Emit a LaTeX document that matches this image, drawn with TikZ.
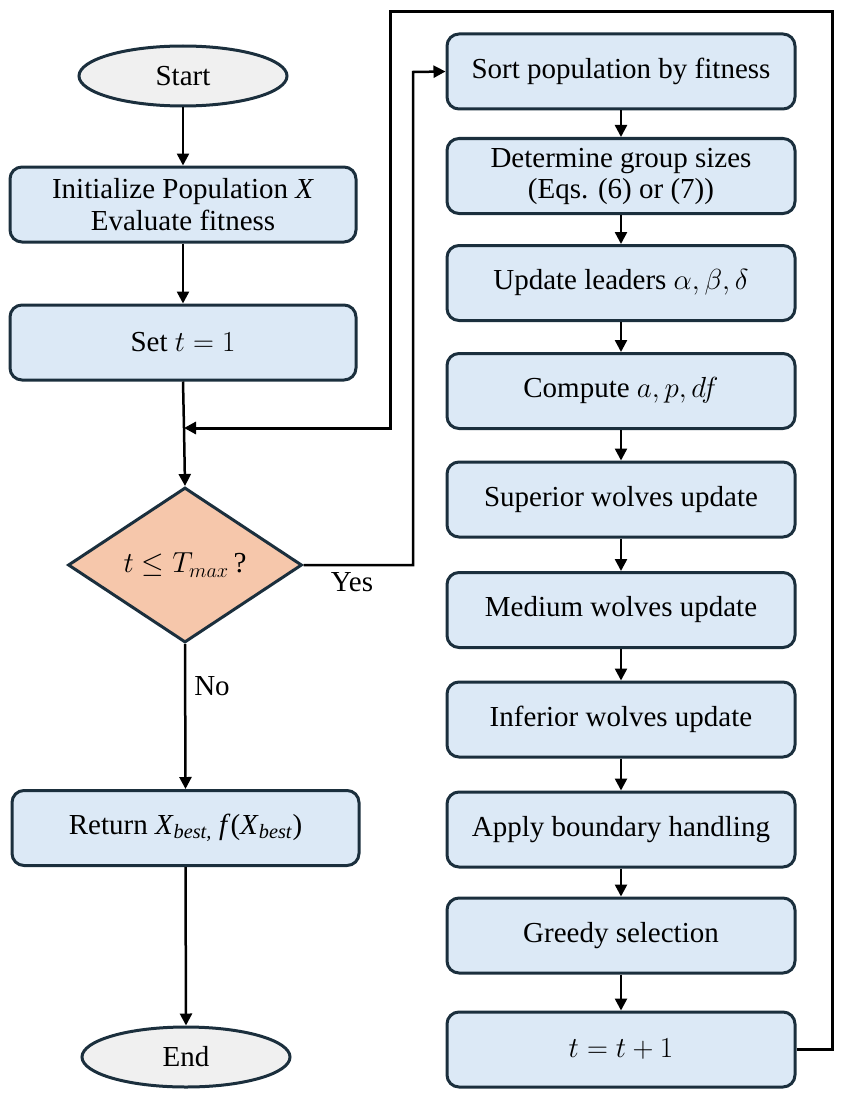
\RequirePackage{fix-cm}
\documentclass[tikz,border=0pt]{standalone}
\usepackage{fontspec}
\setmainfont{Liberation Serif}
\usetikzlibrary{shapes.geometric,arrows.meta}
\definecolor{bordc}{HTML}{1B2F3D}
\definecolor{boxfill}{HTML}{DCE9F6}
\definecolor{decfill}{HTML}{F6C7AB}
\definecolor{termfill}{HTML}{F0F0F0}
\begin{document}
\begin{tikzpicture}[x=1pt,y=-1pt,
  every node/.style={font=\fontsize{29}{35}\selectfont},
  procbox/.style={draw=bordc,fill=boxfill,line width=3pt,rounded corners=12pt,minimum width=346pt,minimum height=75pt,align=center,inner sep=2pt},
  termnode/.style={draw=bordc,fill=termfill,ellipse,line width=3pt,minimum width=208pt,minimum height=60pt,inner sep=0pt},
  decnode/.style={draw=bordc,fill=decfill,diamond,line width=3pt,minimum width=234pt,minimum height=155pt,inner sep=0pt},
  flow/.style={line width=2.5pt,-{Triangle[length=12pt,width=12pt]}},
  lbl/.style={inner sep=0pt}
]
\useasboundingbox (0,0) rectangle (843,1097);
% left column
\node[termnode] (start) at (183,76) {Start};
\node[procbox] (init) at (183,204.5) {Initialize Population \textit{X}\\[-3pt]Evaluate fitness};
\node[procbox] (sett) at (183,342.5) {Set $t=1$};
\coordinate (J) at (184,428);
\node[decnode] (dec) at (185,565) {$t \leq T_{max}$\,?};
\node[procbox,minimum width=347pt] (ret) at (185.5,828) {Return \textit{X}\textsubscript{\textit{best,}} \textit{f}(\textit{X}\textsubscript{\textit{best}})};
\node[termnode] (stop) at (186,1057) {End};
% right column
\node[procbox,minimum width=348pt] (sort) at (621,71.5) {Sort population by fitness};
\node[procbox,minimum width=348pt] (det) at (621,176) {Determine group sizes\\[-4pt](Eqs. (6) or (7))};
\node[procbox,minimum width=348pt] (lead) at (621,283) {Update leaders $\alpha,\beta,\delta$};
\node[procbox,minimum width=348pt] (comp) at (621,391) {Compute $a,p,df$};
\node[procbox,minimum width=348pt] (sup) at (621,499.5) {Superior wolves update};
\node[procbox,minimum width=348pt] (med) at (621,610) {Medium wolves update};
\node[procbox,minimum width=348pt] (inf) at (621,719.5) {Inferior wolves update};
\node[procbox,minimum width=348pt] (app) at (621,829.5) {Apply boundary handling};
\node[procbox,minimum width=348pt] (gre) at (621,935.5) {Greedy selection};
\node[procbox,minimum width=348pt] (tinc) at (621,1049.5) {$t=t+1$};
% left connectors
\draw[flow] (start) -- (init);
\draw[flow] (init) -- (sett);
\draw[flow] (sett.south) -- (J) -- (dec.north);
\draw[flow] (dec.south) -- (ret.north);
\node[lbl] (no) at (212,686) {No};
\draw[flow] (ret.south) -- (stop.north);
% yes branch
\coordinate (Y1) at (413,565);
\coordinate (Y2) at (413,72);
\draw[flow] (dec.east) -- (Y1) -- (Y2) -- (sort.west);
\node[lbl] (yes) at (352,582) {Yes};
% right connectors
\draw[flow] (sort) -- (det);
\draw[flow] (det) -- (lead);
\draw[flow] (lead) -- (comp);
\draw[flow] (comp) -- (sup);
\draw[flow] (sup) -- (med);
\draw[flow] (med) -- (inf);
\draw[flow] (inf) -- (app);
\draw[flow] (app) -- (gre);
\draw[flow] (gre) -- (tinc);
% loop back
\coordinate (L1) at (832,1049.5);
\coordinate (L2) at (832,12);
\coordinate (L3) at (390,12);
\coordinate (L4) at (390,428);
\draw[flow,line width=3pt] (tinc.east) -- (L1) -- (L2) -- (L3) -- (L4) -- (J);
\end{tikzpicture}
\end{document}
